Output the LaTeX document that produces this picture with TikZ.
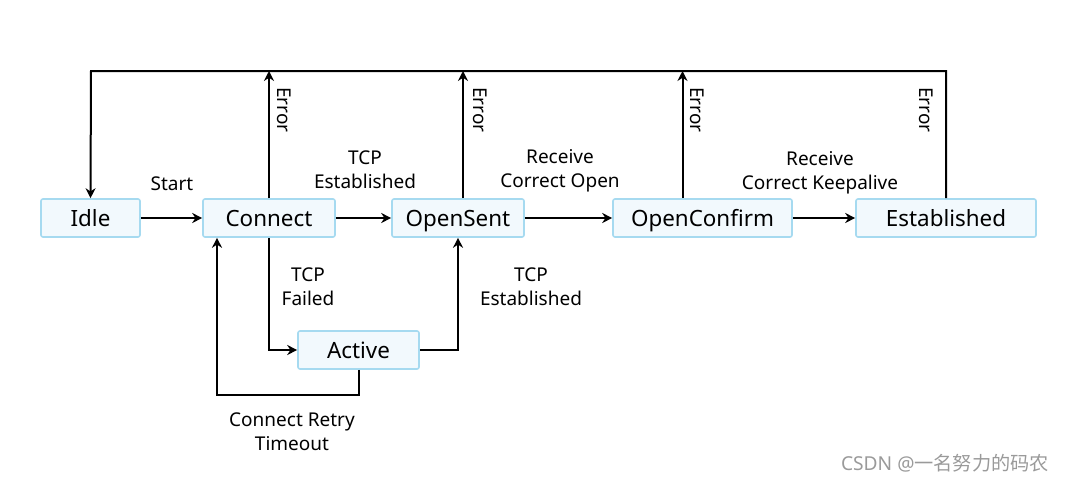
\documentclass[tikz,border=0pt]{standalone}
\usepackage{fontspec}
\setmainfont{Noto Sans}
\newfontfamily\cjkwm{Noto Sans CJK SC}
\usetikzlibrary{positioning,arrows.meta,calc}
\definecolor{boxfill}{HTML}{F2F9FD}
\definecolor{boxline}{HTML}{A6DAF0}
\definecolor{wmgray}{HTML}{9A9A9A}
\tikzset{
  state/.style={draw=boxline,fill=boxfill,line width=0.8pt,rounded corners=1pt,
    minimum height=19pt,inner sep=0pt,text height=8pt,text depth=0pt,
    font=\fontsize{11.2}{13}\selectfont},
  lab/.style={align=center,font=\fontsize{9.5}{12}\selectfont},
  trans/.style={line width=1pt,-{Stealth[length=5pt,width=5pt]}},
  line/.style={line width=1pt}
}
\begin{document}
\begin{tikzpicture}[x=0.5pt,y=-0.5pt]
    \useasboundingbox (0,0) rectangle (1066,482);

    % stanja
    \node [state,minimum width=49.5pt] (idle) at (90.5,218) {Idle};
    \node [state,minimum width=66pt] (conn) at (269,218) {Connect};
    \node [state,minimum width=66pt] (sent) at (458,218) {OpenSent};
    \node [state,minimum width=89.5pt] (cfm) at (702.5,218) {OpenConfirm};
    \node [state,minimum width=90pt] (est) at (946,218) {Established};
    \node [state,minimum width=60.5pt] (act) at (358.5,350) {Active};

    % zgornja povezava
    \coordinate (tl) at (91,71);
    \draw [trans] (est.north) |- (tl) -- (idle.north);

    % napake
    \draw [trans] (conn.north) -- (conn.north |- tl);
    \draw [trans] ($(sent.north)+(5,0)$) coordinate (se) -- (se |- tl);
    \draw [trans] ($(cfm.north)+(-20,0)$) coordinate (ce) -- (ce |- tl);
    \node [lab,rotate=-90] (e1) at (284,110) {Error};
    \node [lab,rotate=-90] (e2) at (480,110) {Error};
    \node [lab,rotate=-90] (e3) at (697,110) {Error};
    \node [lab,rotate=-90] (e4) at (926,110) {Error};

    % glavna pot
    \draw [trans] (idle) -- (conn);
    \draw [trans] (conn) -- (sent);
    \draw [trans] (sent) -- (cfm);
    \draw [trans] (cfm) -- (est);

    % Active
    \draw [trans] (conn.south) |- (act.west);
    \draw [trans] (act.east) -| (sent.south);
    \coordinate (lo) at (217,395);
    \draw [trans] (act.south) |- (lo) -- (lo |- conn.south);

    % labele
    \node [lab] (l1) at (172,184) {Start};
    \node [lab] (l2) at (365,170) {TCP\\Established};
    \node [lab] (l3) at (560,171) {Receive\\Correct Open};
    \node [lab] (l4) at (820,173) {Receive\\Correct Keepalive};
    \node [lab] (l5) at (308,287) {TCP\\Failed};
    \node [lab] (l6) at (531,287) {TCP\\Established};
    \node [lab] (l7) at (292,432) {Connect Retry\\Timeout};

    \node [text=wmgray,font=\fontsize{9.6}{11}\selectfont] (wm) at (945,463) {CSDN @{\cjkwm 一名努力的码农}};
\end{tikzpicture}
\end{document}
